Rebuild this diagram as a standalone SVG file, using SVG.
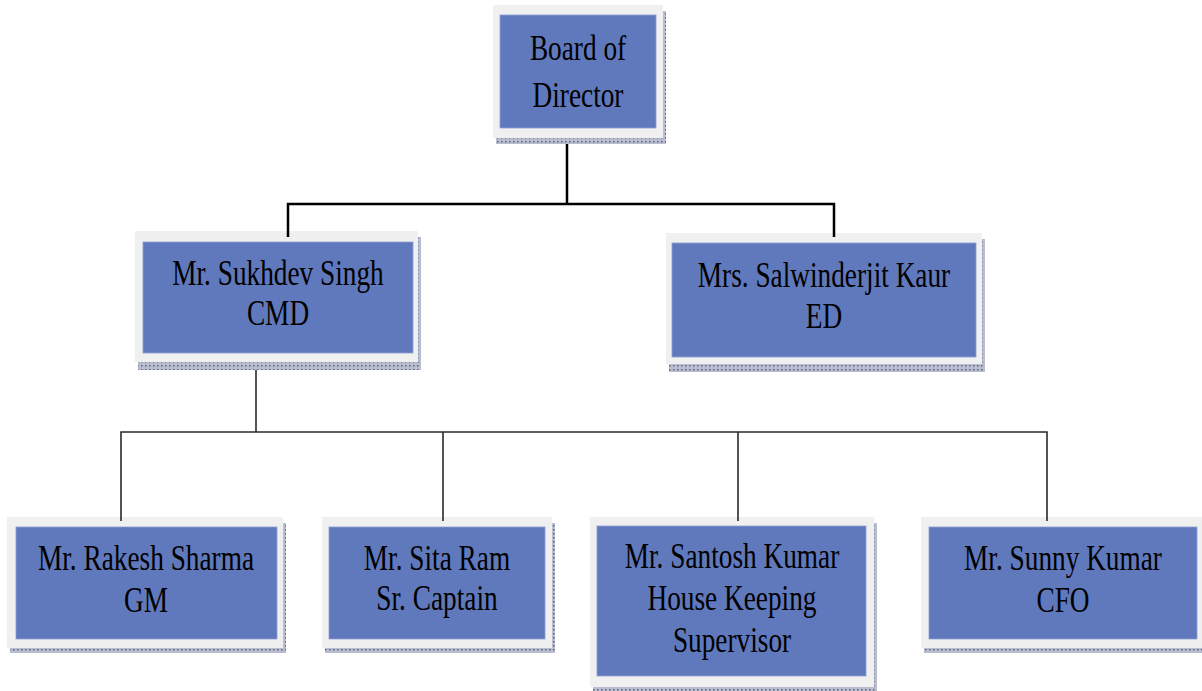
<svg xmlns="http://www.w3.org/2000/svg" width="1202" height="691" viewBox="0 0 1202 691">
<defs>
<pattern id="dots" width="4" height="4" patternUnits="userSpaceOnUse">
<rect width="4" height="4" fill="#b9bdd0"/>
<rect x="1" y="1" width="1.5" height="1.5" fill="#5d6384"/>
</pattern>
</defs>
<style>
.sh{fill:url(#dots)}
.fr{fill:#f0f0f0}
.bx{fill:#6079bd;stroke:#8c9ed4;stroke-width:0.8}
.t{font-family:"Liberation Serif","Times New Roman",serif;font-size:35px;fill:#000;text-anchor:middle}
.c1{fill:none;stroke:#000;stroke-width:2.5}
.c2{fill:none;stroke:#2a2a2a;stroke-width:1.6}
</style>
<rect width="1202" height="691" fill="#fff"/>

<g id="board">
<rect class="sh" x="496" y="11" width="170" height="133"/>
<rect class="fr" x="493" y="5" width="170" height="133"/>
<rect class="bx" x="500" y="15" width="156" height="113"/>
<text class="t" transform="translate(578,60) scale(0.78,1)">Board of</text>
<text class="t" transform="translate(578,107) scale(0.78,1)">Director</text>
</g>

<g id="cmd">
<rect class="sh" x="138" y="237" width="283" height="133"/>
<rect class="fr" x="135" y="231" width="283" height="131"/>
<rect class="bx" x="143" y="242" width="270" height="111"/>
<text class="t" transform="translate(278,285) scale(0.78,1)">Mr. Sukhdev Singh</text>
<text class="t" transform="translate(278,325) scale(0.78,1)">CMD</text>
</g>

<g id="ed">
<rect class="sh" x="669" y="239" width="316" height="133"/>
<rect class="fr" x="666" y="233" width="316" height="131"/>
<rect class="bx" x="672" y="243" width="304" height="114"/>
<text class="t" transform="translate(824,287) scale(0.78,1)">Mrs. Salwinderjit Kaur</text>
<text class="t" transform="translate(824,328) scale(0.78,1)">ED</text>
</g>

<g id="gm">
<rect class="sh" x="10" y="523" width="276" height="130"/>
<rect class="fr" x="7" y="517" width="276" height="131"/>
<rect class="bx" x="16" y="527" width="261" height="112"/>
<text class="t" transform="translate(146,570) scale(0.78,1)">Mr. Rakesh Sharma</text>
<text class="t" transform="translate(146,612) scale(0.78,1)">GM</text>
</g>

<g id="sita">
<rect class="sh" x="325" y="523" width="230" height="130"/>
<rect class="fr" x="322" y="517" width="230" height="131"/>
<rect class="bx" x="329" y="527" width="216" height="112"/>
<text class="t" transform="translate(437,570) scale(0.78,1)">Mr. Sita Ram</text>
<text class="t" transform="translate(437,610) scale(0.78,1)">Sr. Captain</text>
</g>

<g id="santosh">
<rect class="sh" x="593" y="523" width="284" height="170"/>
<rect class="fr" x="590" y="517" width="284" height="170"/>
<rect class="bx" x="597" y="526" width="269" height="150"/>
<text class="t" transform="translate(732,568) scale(0.78,1)">Mr. Santosh Kumar</text>
<text class="t" transform="translate(732,610) scale(0.78,1)">House Keeping</text>
<text class="t" transform="translate(732,652) scale(0.78,1)">Supervisor</text>
</g>

<g id="sunny">
<rect class="sh" x="924" y="523" width="281" height="130"/>
<rect class="fr" x="921" y="517" width="281" height="131"/>
<rect class="bx" x="929" y="527" width="268" height="112"/>
<text class="t" transform="translate(1063,570) scale(0.78,1)">Mr. Sunny Kumar</text>
<text class="t" transform="translate(1063,612) scale(0.78,1)">CFO</text>
</g>

<g id="connectors">
<path class="c1" d="M567,144 V204"/>
<path class="c1" d="M288,237 V204 H834 V237"/>
<path class="c2" d="M256,370 V432"/>
<path class="c2" d="M121,521 V432 H1047 V521"/>
<path class="c2" d="M443,432 V521"/>
<path class="c2" d="M738,432 V521"/>
</g>
</svg>
